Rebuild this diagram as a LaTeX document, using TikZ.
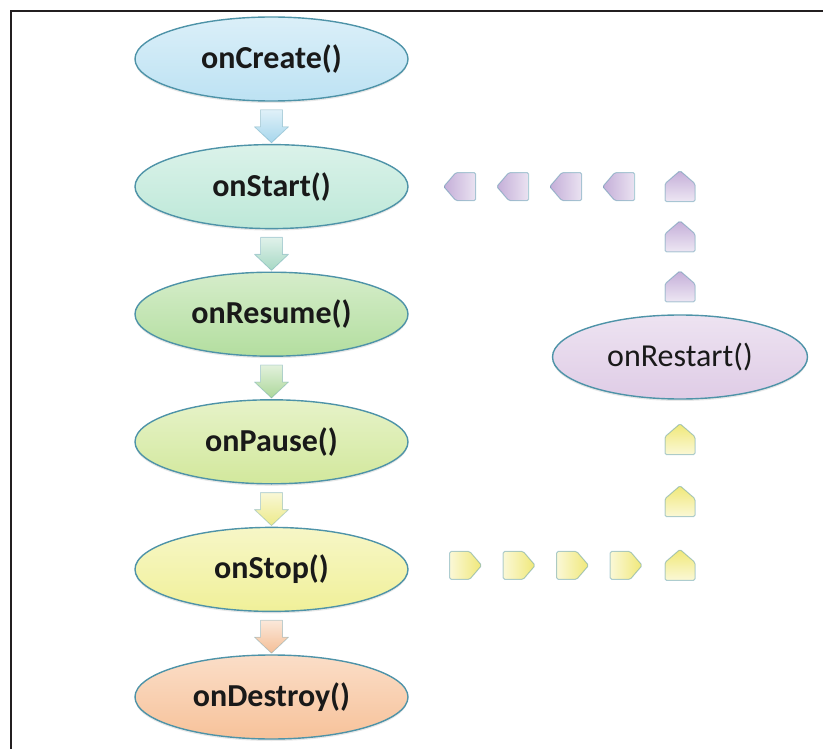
\documentclass[tikz,border=0pt]{standalone}
\usepackage{fontspec}
\setmainfont{Carlito}
\usetikzlibrary{shapes.geometric,calc,shadows}

\definecolor{framec}{HTML}{231F20}
\definecolor{edgec}{HTML}{4E93A8}
\definecolor{cCreate}{HTML}{BDE2F3}
\definecolor{cStart}{HTML}{BDE8D8}
\definecolor{cResume}{HTML}{B3DE9F}
\definecolor{cPause}{HTML}{D2E89C}
\definecolor{cStop}{HTML}{F0F099}
\definecolor{cDestroy}{HTML}{F7C29A}
\definecolor{cRestart}{HTML}{DFCCE6}
\definecolor{cArrowY}{HTML}{F0E878}
\definecolor{cArrowP}{HTML}{C4AED8}
% block arrow fills
\definecolor{aCreate}{HTML}{A6D6EC}
\definecolor{aStart}{HTML}{A6D8C4}
\definecolor{aResume}{HTML}{ACD79A}
\definecolor{aPause}{HTML}{EDEA8A}
\definecolor{aStop}{HTML}{F4BE96}

\tikzset{
  phase/.style={ellipse, minimum width=273pt, minimum height=84pt, inner sep=0pt,
    draw=edgec, line width=1.4pt, top color=#1!55!white, bottom color=#1,
    drop shadow={opacity=0.18, shadow xshift=0pt, shadow yshift=-2pt},
    text=black!90, font=\fontsize{32}{36}\selectfont\bfseries},
  sidephase/.style={phase=#1, minimum width=255pt, font=\fontsize{32}{36}\selectfont},
  trail/.style={draw=edgec, draw opacity=0.45, line width=1pt, line join=round,
    rounded corners=1.5pt},
  % small trail arrows, one per direction
  pics/pentR/.style={code={
    \shade[trail, left color=#1!30!white, right color=#1]
      (-16,-14) -- (4,-14) -- (16,0) -- (4,14) -- (-16,14) -- cycle;}},
  pics/pentL/.style={code={
    \shade[trail, left color=#1, right color=#1!35!white]
      (16,-14) -- (-4,-14) -- (-16,0) -- (-4,14) -- (16,14) -- cycle;}},
  pics/pentU/.style={code={
    \shade[trail, top color=#1, bottom color=#1!30!white]
      (-15,15) -- (-15,-3) -- (0,-16) -- (15,-3) -- (15,15) -- cycle;}}
}

% block arrow between two stacked phases
\newcommand\flowstep[3]{%
  \begin{scope}[shift={($(#1.south)!0.5!(#2.north)$)}]
    \shade[top color=#3!35!white, bottom color=#3, draw=edgec, draw opacity=0.35,
      line width=0.8pt, line join=round]
      (-11,-13) -- (11,-13) -- (11,4) -- (17,4) -- (0,20) -- (-17,4) -- (-11,4) -- cycle;
  \end{scope}}

\begin{document}
\begin{tikzpicture}[x=1pt, y=-1pt]
  \useasboundingbox (0,0) rectangle (823,749);

  % frame
  \draw[framec, line width=2.6pt] (830,11) -- (11,11) -- (11,760);

  % lifecycle column
  \node[phase=cCreate]  (create)  at (271.5,59)    {onCreate()};
  \node[phase=cStart]   (start)   at (271.5,186.6) {onStart()};
  \node[phase=cResume]  (resume)  at (271.5,314.2) {onResume()};
  \node[phase=cPause]   (pause)   at (271.5,441.8) {onPause()};
  \node[phase=cStop]    (stop)    at (271.5,569.4) {onStop()};
  \node[phase=cDestroy] (destroy) at (271.5,697)   {onDestroy()};

  % restart branch
  \node[sidephase=cRestart] (restart) at (680,357) {onRestart()};

  \flowstep{create}{start}{aCreate}
  \flowstep{start}{resume}{aStart}
  \flowstep{resume}{pause}{aResume}
  \flowstep{pause}{stop}{aPause}
  \flowstep{stop}{destroy}{aStop}

  % onStop -> onRestart (dotted trail)
  \foreach \i in {0,...,3}
    \pic at ($(stop.east)+(57+53.5*\i,-4)$) {pentR=cArrowY};
  \pic at ($(restart.south |- stop.east)+(0,-4)$) {pentU=cArrowY};
  \foreach \d in {0,1}
    \pic at ($(restart.south)+(0,40+62*\d)$) {pentU=cArrowY};

  % onRestart -> onStart (dotted trail)
  \foreach \i in {0,...,3}
    \pic at ($(start.east)+(51+53*\i,0)$) {pentL=cArrowP};
  \pic at (restart.north |- start.east) {pentU=cArrowP};
  \foreach \d in {0,1}
    \pic at ($(restart.north)+(0,-77.5+50*\d)$) {pentU=cArrowP};
\end{tikzpicture}
\end{document}
